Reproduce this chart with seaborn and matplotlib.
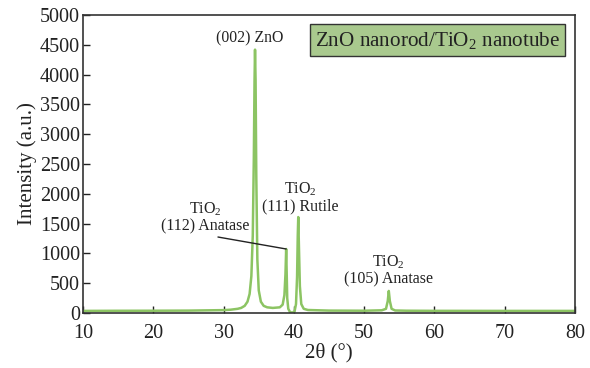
import matplotlib
matplotlib.use("Agg")
import matplotlib.pyplot as plt
import seaborn as sns
import pandas as pd

# XRD pattern (2theta in degrees, intensity in a.u.)
two_theta = [10, 15, 20, 25, 30, 31, 32, 32.5, 33.0, 33.4, 33.7, 33.95, 34.15, 34.3,
             34.4, 34.47, 34.55, 34.65, 34.8, 35.0, 35.3, 35.7, 36.2, 37.0, 38.0, 38.4,
             38.65, 38.8, 38.9, 38.97, 39.05, 39.2, 39.45, 39.8, 40.1, 40.3, 40.45, 40.55,
             40.62, 40.7, 40.85, 41.05, 41.4, 42, 45, 50, 52.5, 53.1, 53.35, 53.5, 53.65,
             53.9, 54.4, 56, 60, 70, 80]
intensity = [35, 37, 38, 40, 48, 55, 70, 85, 120, 190, 320, 620, 1300, 2600,
             3900, 4420, 3900, 2300, 900, 380, 190, 120, 95, 85, 95, 140,
             300, 650, 1074, 700, 250, 70, 15, 5, 30, 150, 600, 1300,
             1610, 1200, 450, 150, 70, 50, 40, 38, 45, 70, 200, 370, 200,
             70, 42, 38, 36, 35, 35]

df = pd.DataFrame({"two_theta": two_theta, "intensity": intensity})

sns.set_style("ticks")
plt.rcParams["font.family"] = ["Liberation Serif", "DejaVu Serif"]
plt.rcParams["mathtext.default"] = "regular"

fig = plt.figure(figsize=(5.9, 3.68), dpi=100)
ax = fig.add_axes([0.1407, 0.1495, 0.834, 0.8095])

sns.lineplot(data=df, x="two_theta", y="intensity", color="#8cc463", lw=1.8, ax=ax)

ax.set_xlim(10, 80)
ax.set_ylim(0, 5000)
ax.set_xticks(range(10, 81, 10))
ax.set_yticks(range(0, 5001, 500))
ax.tick_params(direction="in", length=5, width=1, labelsize=14.5, colors="#222")
ax.tick_params(axis="x", pad=8)
ax.tick_params(axis="y", pad=2)
for s in ax.spines.values():
    s.set_linewidth(1.2)
    s.set_color("#333")

ax.set_xlabel("2θ (°)", fontsize=15, color="#222", labelpad=0)
ax.set_ylabel("Intensity (a.u.)", fontsize=15, color="#222", labelpad=2)

# peak labels
ax.text(33.75, 4614, "(002) ZnO", fontsize=11.3, ha="center", va="center", color="#222")
ax.text(27.35, 1602, "TiO$_2$\n(112) Anatase", fontsize=11.5, ha="center", va="center",
        color="#222", linespacing=1.1)
ax.plot([29.2, 38.9], [1275, 1074], color="#222", lw=1)
ax.text(40.87, 1938, "TiO$_2$\n(111) Rutile", fontsize=11.5, ha="center", va="center",
        color="#222", linespacing=1.1)
ax.text(53.4, 713, "TiO$_2$\n(105) Anatase", fontsize=11.5, ha="center", va="center",
        color="#222", linespacing=1.1)

ax.text(0.7205, 0.916, "ZnO nanorod/TiO$_2$ nanotube", transform=ax.transAxes,
        fontsize=15.2, ha="center", va="center", color="#222",
        bbox=dict(boxstyle="square,pad=0.25", facecolor="#a9c98e", edgecolor="#333", lw=1))

fig.savefig("out.png", dpi=100)
